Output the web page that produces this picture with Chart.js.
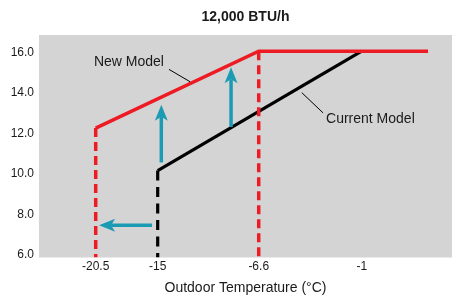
<!DOCTYPE html>
<html>
<head>
<meta charset="utf-8">
<script src="https://cdn.jsdelivr.net/npm/chart.js@4.4.0/dist/chart.umd.min.js"></script>
<style>
  html, body { margin: 0; padding: 0; background: #fff; }
  #wrap { width: 453px; height: 299px; }
</style>
</head>
<body>
<div id="wrap"><canvas id="chart"></canvas></div>
<script>
// chart values (temperature in °C, capacity in kBTU/h)
const chartTitle = "12,000 BTU/h";
const xTickValues = [-20.5, -15, -6.6, -1];
const yTickValues = [6, 8, 10, 12, 14, 16];

const newModelTemps = [-20.5, -6.6, 2.6];
const newModelValues = [12.2, 16.0, 16.0];
const newModelLimitTemps = [-20.5, -20.5, null, -6.6, -6.6];
const newModelLimitValues = [12.2, 5.8, null, 16.0, 5.8];

const currentModelTemps = [-15, -1];
const currentModelValues = [10.1, 16.0];
const currentLimitTemps = [-15, -15];
const currentLimitValues = [10.1, 5.8];

// arrows: [fromTemp, fromValue, toTemp, toValue]
const arrows = [
    [-14.7, 10.5, -14.7, 13.35],
    [-8.9, 12.25, -8.9, 15.2],
    [-15.5, 7.4, -20.2, 7.4]
];
// callouts: [text, textTemp, textValue, align, lineFromTemp, lineFromValue, lineToTemp, lineToValue]
const callouts = [
    ["New Model", -17.55, 15.46, "center", -14.06, 15.1, -12.31, 14.49],
    ["Current Model", -2.94, 12.65, "left", -4.26, 13.95, -3.1, 12.95]
];

const RED = "#ed1c24";
const TEAL = "#1b9bb3";
const TEXT = "#1a1a1a";

// null marks a break in the line
function toPoints(xs, ys) {
    return xs.map((x, i) => (x === null ? { x: xs[i - 1], y: null } : { x: x, y: ys[i] }));
}

// x axis of the original is schematic: each gap between ticks has its own width
class PiecewiseScale extends Chart.LinearScale {
    getPixelForValue(value) {
        const b = this.options.breaks;
        let i = 0;
        while (i < b.length - 2 && value > b[i + 1].value) i++;
        const t = (value - b[i].value) / (b[i + 1].value - b[i].value);
        const f = b[i].frac + t * (b[i + 1].frac - b[i].frac);
        return this.left + f * this.width;
    }
    getValueForPixel(pixel) {
        const b = this.options.breaks;
        const f = (pixel - this.left) / this.width;
        let i = 0;
        while (i < b.length - 2 && f > b[i + 1].frac) i++;
        const t = (f - b[i].frac) / (b[i + 1].frac - b[i].frac);
        return b[i].value + t * (b[i + 1].value - b[i].value);
    }
}
PiecewiseScale.id = "piecewise";
PiecewiseScale.defaults = Chart.LinearScale.defaults;
Chart.register(PiecewiseScale);

const plotBackground = {
    id: "plotBackground",
    beforeDraw(chart) {
        const { ctx, chartArea: a } = chart;
        ctx.save();
        ctx.fillStyle = "#d4d4d4";
        ctx.fillRect(a.left, a.top, a.right - a.left, a.bottom - a.top);
        ctx.restore();
    }
};

const annotations = {
    id: "annotations",
    afterDatasetsDraw(chart) {
        const { ctx, chartArea: a } = chart;
        const xs = chart.scales.x, ys = chart.scales.y;
        ctx.save();

        // title, centred over the plot
        ctx.fillStyle = TEXT;
        ctx.font = "bold 14px 'Liberation Sans', Arial, sans-serif";
        ctx.textAlign = "center";
        ctx.textBaseline = "middle";
        ctx.fillText(chartTitle, (a.left + a.right) / 2, 17.5);

        // arrows
        arrows.forEach(ar => {
            const x1 = xs.getPixelForValue(ar[0]), y1 = ys.getPixelForValue(ar[1]);
            const x2 = xs.getPixelForValue(ar[2]), y2 = ys.getPixelForValue(ar[3]);
            const ang = Math.atan2(y2 - y1, x2 - x1);
            const headLen = 16, headW = 6.5;
            ctx.strokeStyle = TEAL;
            ctx.fillStyle = TEAL;
            ctx.lineWidth = 3.5;
            ctx.lineCap = "butt";
            ctx.beginPath();
            ctx.moveTo(x1, y1);
            ctx.lineTo(x2 - Math.cos(ang) * (headLen - 4), y2 - Math.sin(ang) * (headLen - 4));
            ctx.stroke();
            ctx.translate(x2, y2);
            ctx.rotate(ang);
            ctx.beginPath();
            ctx.moveTo(0, 0);
            ctx.lineTo(-headLen, -headW);
            ctx.lineTo(-headLen + 4, 0);
            ctx.lineTo(-headLen, headW);
            ctx.closePath();
            ctx.fill();
            ctx.setTransform(1, 0, 0, 1, 0, 0);
        });

        // callout labels with leader lines
        ctx.font = "14px 'Liberation Sans', Arial, sans-serif";
        ctx.fillStyle = TEXT;
        ctx.strokeStyle = "#000";
        ctx.lineWidth = 1;
        callouts.forEach(c => {
            ctx.textAlign = c[3];
            ctx.textBaseline = "middle";
            ctx.fillText(c[0], xs.getPixelForValue(c[1]), ys.getPixelForValue(c[2]));
            ctx.beginPath();
            ctx.moveTo(xs.getPixelForValue(c[4]), ys.getPixelForValue(c[5]));
            ctx.lineTo(xs.getPixelForValue(c[6]), ys.getPixelForValue(c[7]));
            ctx.stroke();
        });
        ctx.restore();
    }
};

const lineStyle = {
    pointRadius: 0,
    fill: false,
    tension: 0,
    borderJoinStyle: "miter",
    borderCapStyle: "butt",
    spanGaps: false
};

new Chart(document.getElementById("chart"), {
    type: "line",
    data: {
        datasets: [
            Object.assign({ label: "New Model", data: toPoints(newModelTemps, newModelValues),
                borderColor: RED, borderWidth: 3.5 }, lineStyle),
            Object.assign({ label: "New Model limit", data: toPoints(newModelLimitTemps, newModelLimitValues),
                borderColor: RED, borderWidth: 3.5, borderDash: [9, 5] }, lineStyle),
            Object.assign({ label: "Current Model", data: toPoints(currentModelTemps, currentModelValues),
                borderColor: "#000", borderWidth: 3.2 }, lineStyle),
            Object.assign({ label: "Current Model limit", data: toPoints(currentLimitTemps, currentLimitValues),
                borderColor: "#000", borderWidth: 3.2, borderDash: [10, 6.5] }, lineStyle)
        ]
    },
    options: {
        responsive: true,
        maintainAspectRatio: false,
        animation: false,
        layout: { padding: { top: 35, right: 1, left: 0, bottom: 0 } },
        plugins: {
            legend: { display: false },
            tooltip: { enabled: false },
            title: { display: false }
        },
        scales: {
            x: {
                type: "piecewise",
                min: -25.5,
                max: 3.9,
                breaks: [
                    { value: -25.5, frac: 0 },
                    { value: -20.5, frac: 0.1373 },
                    { value: -15, frac: 0.2874 },
                    { value: -6.6, frac: 0.532 },
                    { value: -1, frac: 0.7814 },
                    { value: 3.9, frac: 1 }
                ],
                afterBuildTicks: s => { s.ticks = xTickValues.map(v => ({ value: v })); },
                afterFit: s => { s.height = 41.5; },
                grid: { display: false, drawTicks: false },
                border: { display: false },
                ticks: {
                    padding: 2,
                    color: TEXT,
                    font: { family: "'Liberation Sans', Arial, sans-serif", size: 12 },
                    callback: v => String(v),
                    autoSkip: false,
                    maxRotation: 0
                },
                title: {
                    display: true,
                    text: "Outdoor Temperature (°C)",
                    color: TEXT,
                    font: { family: "'Liberation Sans', Arial, sans-serif", size: 14 },
                    padding: { top: 4, bottom: 2 }
                }
            },
            y: {
                min: 5.8,
                max: 16.8,
                afterBuildTicks: s => { s.ticks = yTickValues.map(v => ({ value: v })); },
                afterFit: s => { s.width = 39; },
                grid: { display: false, drawTicks: false },
                border: { display: false },
                ticks: {
                    padding: 5,
                    labelOffset: 1.5,
                    color: TEXT,
                    font: { family: "'Liberation Sans', Arial, sans-serif", size: 12 },
                    callback: v => v.toFixed(1)
                }
            }
        }
    },
    plugins: [plotBackground, annotations]
});
</script>
</body>
</html>
